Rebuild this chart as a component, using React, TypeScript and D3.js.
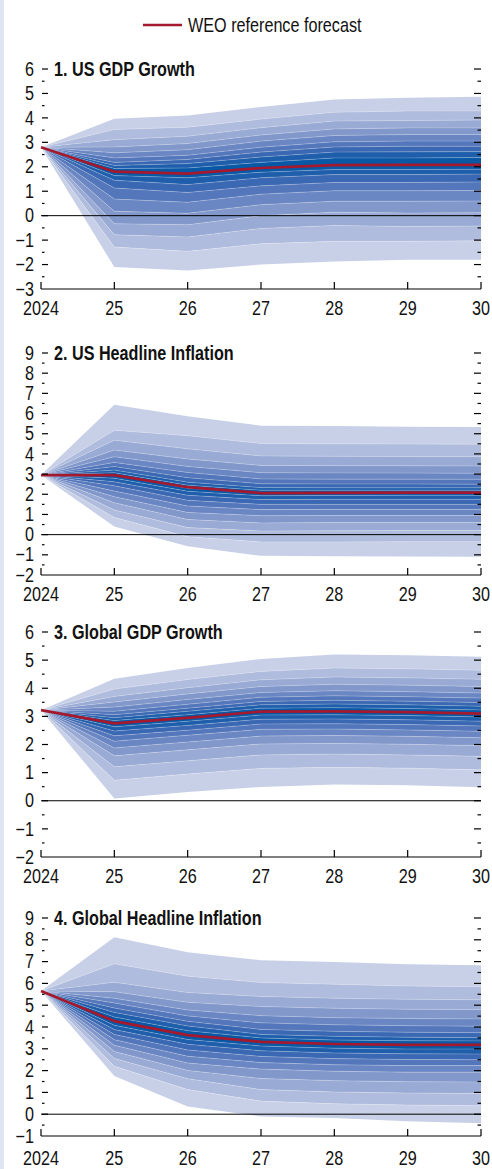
import React from "react";
import * as d3 from "d3";

const years = [2024, 2025, 2026, 2027, 2028, 2029, 2030];
const yearLabels = ["2024", "25", "26", "27", "28", "29", "30"];

// Fan quantiles per year: 95th ... 50th ... 5th percentile (19 values)
const usGdpFan = [
  [2.8, 2.8, 2.8, 2.8, 2.8, 2.8, 2.8, 2.8, 2.8, 2.8, 2.8, 2.8, 2.8, 2.8, 2.8, 2.8, 2.8, 2.8, 2.8],
  [3.96, 3.52, 3.11, 2.81, 2.57, 2.36, 2.18, 2.05, 1.93, 1.8, 1.64, 1.45, 1.13, 0.68, 0.18, -0.33, -0.78, -1.28, -2.1],
  [4.1, 3.62, 3.25, 2.95, 2.7, 2.47, 2.3, 2.13, 1.95, 1.72, 1.55, 1.27, 0.95, 0.55, 0.1, -0.37, -0.87, -1.46, -2.24],
  [4.45, 3.95, 3.6, 3.3, 3.05, 2.8, 2.6, 2.4, 2.18, 1.95, 1.78, 1.55, 1.22, 0.88, 0.45, 0.0, -0.52, -1.15, -2.0],
  [4.75, 4.23, 3.87, 3.55, 3.28, 3.02, 2.81, 2.6, 2.36, 2.07, 1.89, 1.68, 1.36, 1.02, 0.59, 0.14, -0.4, -1.05, -1.87],
  [4.82, 4.28, 3.89, 3.59, 3.32, 3.05, 2.84, 2.61, 2.36, 2.08, 1.89, 1.68, 1.36, 1.02, 0.59, 0.11, -0.44, -1.05, -1.8],
  [4.86, 4.28, 3.91, 3.59, 3.32, 3.05, 2.84, 2.62, 2.38, 2.08, 1.9, 1.7, 1.38, 1.03, 0.6, 0.12, -0.42, -1.03, -1.8],
];
const usGdpRef = [2.8, 1.8, 1.72, 1.95, 2.07, 2.08, 2.08];

const usInflFan = [
  [2.95, 2.95, 2.95, 2.95, 2.95, 2.95, 2.95, 2.95, 2.95, 2.95, 2.95, 2.95, 2.95, 2.95, 2.95, 2.95, 2.95, 2.95, 2.95],
  [6.44, 5.17, 4.68, 4.19, 3.86, 3.58, 3.37, 3.2, 3.07, 2.95, 2.8, 2.62, 2.42, 2.16, 1.88, 1.58, 1.22, 0.85, 0.4],
  [5.86, 4.9, 4.25, 3.75, 3.38, 3.08, 2.82, 2.6, 2.45, 2.3, 2.15, 1.95, 1.7, 1.42, 1.1, 0.75, 0.35, -0.1, -0.57],
  [5.4, 4.52, 3.9, 3.43, 3.07, 2.76, 2.52, 2.33, 2.2, 2.06, 1.93, 1.74, 1.5, 1.24, 0.94, 0.58, 0.18, -0.36, -1.05],
  [5.38, 4.5, 3.88, 3.42, 3.06, 2.75, 2.51, 2.32, 2.2, 2.07, 1.94, 1.75, 1.5, 1.25, 0.95, 0.6, 0.19, -0.36, -1.07],
  [5.35, 4.49, 3.87, 3.41, 3.05, 2.75, 2.51, 2.32, 2.2, 2.08, 1.95, 1.75, 1.5, 1.25, 0.95, 0.6, 0.2, -0.35, -1.08],
  [5.33, 4.48, 3.86, 3.4, 3.04, 2.74, 2.5, 2.32, 2.2, 2.08, 1.95, 1.75, 1.5, 1.25, 0.95, 0.6, 0.2, -0.35, -1.1],
];
const usInflRef = [2.95, 2.95, 2.35, 2.06, 2.07, 2.08, 2.08];

const glGdpFan = [
  [3.22, 3.22, 3.22, 3.22, 3.22, 3.22, 3.22, 3.22, 3.22, 3.22, 3.22, 3.22, 3.22, 3.22, 3.22, 3.22, 3.22, 3.22, 3.22],
  [4.34, 3.97, 3.71, 3.51, 3.33, 3.18, 3.06, 2.95, 2.85, 2.75, 2.63, 2.48, 2.31, 2.12, 1.88, 1.6, 1.21, 0.73, 0.08],
  [4.72, 4.31, 4.02, 3.8, 3.6, 3.43, 3.29, 3.18, 3.06, 2.95, 2.83, 2.68, 2.51, 2.33, 2.09, 1.81, 1.42, 0.95, 0.31],
  [5.04, 4.6, 4.3, 4.06, 3.85, 3.68, 3.53, 3.41, 3.29, 3.17, 3.05, 2.9, 2.73, 2.54, 2.3, 2.02, 1.63, 1.15, 0.49],
  [5.2, 4.72, 4.4, 4.14, 3.91, 3.73, 3.57, 3.44, 3.31, 3.18, 3.06, 2.91, 2.74, 2.55, 2.32, 2.04, 1.66, 1.19, 0.58],
  [5.17, 4.69, 4.37, 4.11, 3.88, 3.7, 3.54, 3.41, 3.28, 3.15, 3.03, 2.88, 2.71, 2.52, 2.29, 2.01, 1.63, 1.16, 0.55],
  [5.12, 4.64, 4.32, 4.06, 3.83, 3.65, 3.49, 3.36, 3.23, 3.1, 2.98, 2.83, 2.66, 2.47, 2.24, 1.96, 1.58, 1.1, 0.48],
];
const glGdpRef = [3.22, 2.75, 2.95, 3.17, 3.18, 3.15, 3.1];

const glInflFan = [
  [5.65, 5.65, 5.65, 5.65, 5.65, 5.65, 5.65, 5.65, 5.65, 5.65, 5.65, 5.65, 5.65, 5.65, 5.65, 5.65, 5.65, 5.65, 5.65],
  [8.12, 6.9, 6.05, 5.62, 5.32, 5.1, 4.87, 4.67, 4.46, 4.27, 4.08, 3.88, 3.66, 3.42, 3.16, 2.88, 2.56, 2.2, 1.75],
  [7.43, 6.33, 5.58, 5.13, 4.78, 4.51, 4.26, 4.05, 3.83, 3.63, 3.43, 3.21, 2.95, 2.66, 2.35, 2.01, 1.63, 1.13, 0.35],
  [7.06, 6.04, 5.4, 4.94, 4.52, 4.19, 3.89, 3.66, 3.5, 3.32, 3.13, 2.91, 2.65, 2.37, 2.07, 1.64, 1.13, 0.6, -0.1],
  [6.98, 5.96, 5.32, 4.86, 4.43, 4.1, 3.8, 3.57, 3.4, 3.22, 3.03, 2.81, 2.55, 2.27, 1.97, 1.54, 1.02, 0.48, -0.18],
  [6.88, 5.88, 5.27, 4.81, 4.39, 4.06, 3.76, 3.53, 3.37, 3.18, 2.99, 2.77, 2.51, 2.23, 1.93, 1.49, 0.97, 0.42, -0.32],
  [6.83, 5.85, 5.25, 4.8, 4.37, 4.04, 3.74, 3.51, 3.36, 3.18, 2.99, 2.76, 2.5, 2.23, 1.93, 1.48, 0.95, 0.39, -0.41],
];
const glInflRef = [5.65, 4.27, 3.63, 3.32, 3.22, 3.18, 3.18];

const panelTitles = [
  "1. US GDP Growth",
  "2. US Headline Inflation",
  "3. Global GDP Growth",
  "4. Global Headline Inflation",
];
const panelDomains: [number, number][] = [
  [-3, 6],
  [-2, 9],
  [-2, 6],
  [-1, 9],
];
const panelFans = [usGdpFan, usInflFan, glGdpFan, glInflFan];
const panelRefs = [usGdpRef, usInflRef, glGdpRef, glInflRef];

const legendLabel = "WEO reference forecast";

// styling / layout
const W = 492;
const H = 1169;
const FONT = "'Liberation Sans', Arial, sans-serif";
const FS = 19.5;
const SX = 0.83;
const RED = "#a5192e";
const bandColors = ["#c8d0e7", "#b0bcdd", "#99aad4", "#8298cb", "#6b87c3", "#5476ba", "#3b68b2", "#1f5eab", "#0858a5"];
const panelBoxes = [
  { top: 69, bottom: 289, labelDy: 25.5 },
  { top: 353, bottom: 575, labelDy: 25.5 },
  { top: 632, bottom: 857, labelDy: 25.5 },
  { top: 918, bottom: 1136, labelDy: 29 },
];
const X0 = 41;
const X1 = 481;

function Txt({
  x,
  y,
  anchor = "start",
  bold = false,
  dy,
  children,
}: {
  x: number;
  y: number;
  anchor?: string;
  bold?: boolean;
  dy?: string;
  children: React.ReactNode;
}) {
  return (
    <text
      transform={`translate(${x},${y}) scale(${SX},1)`}
      dy={dy}
      textAnchor={anchor}
      fontSize={FS}
      fontWeight={bold ? "bold" : "normal"}
      fontFamily={FONT}
      fill="#111"
    >
      {children}
    </text>
  );
}

function Panel({ idx }: { idx: number }) {
  const box = panelBoxes[idx];
  const [dmin, dmax] = panelDomains[idx];
  const fan = panelFans[idx];
  const ref = panelRefs[idx];
  const x = d3.scaleLinear().domain([years[0], years[years.length - 1]]).range([X0, X1]);
  const y = d3.scaleLinear().domain([dmin, dmax]).range([box.bottom, box.top]);
  const nEdges = fan[0].length;
  const nBands = nEdges - 1;
  const half = nBands / 2;

  const bands = d3.range(nBands).map((b) => {
    const area = d3
      .area<number>()
      .x((_, i) => x(years[i]))
      .y0((_, i) => y(fan[i][b + 1]))
      .y1((_, i) => y(fan[i][b]));
    const level = b < half ? b : nBands - 1 - b;
    return { d: area(years) as string, color: bandColors[level] };
  });
  const edgeLines = d3.range(1, nEdges - 1).map((e) => {
    const line = d3
      .line<number>()
      .x((_, i) => x(years[i]))
      .y((_, i) => y(fan[i][e]));
    return line(years) as string;
  });
  const refLine = d3
    .line<number>()
    .x((_, i) => x(years[i]))
    .y((v) => y(v))(ref) as string;

  const tickVals = d3.range(dmin + 0.5, dmax + 0.25, 0.5);
  const labelVals = d3.range(dmin, dmax + 0.5, 1);
  const fmt = (v: number) => (v < 0 ? "\u2212" + Math.abs(v) : String(v));

  return (
    <g>
      {bands.map((b, i) => (
        <path key={"b" + i} d={b.d} fill={b.color} stroke="none" />
      ))}
      {edgeLines.map((d, i) => (
        <path key={"e" + i} d={d} fill="none" stroke="#ffffff" strokeOpacity={0.28} strokeWidth={0.8} />
      ))}
      {dmin < 0 && (
        <line x1={X0} x2={X1} y1={y(0)} y2={y(0)} stroke="#000" strokeWidth={1} />
      )}
      <path d={refLine} fill="none" stroke={RED} strokeWidth={2.7} strokeLinejoin="round" />
      {/* bottom axis */}
      <line x1={X0} x2={X1} y1={box.bottom} y2={box.bottom} stroke="#000" strokeWidth={1.2} />
      {years.map((yr, i) => (
        <g key={"x" + yr}>
          <line x1={x(yr)} x2={x(yr)} y1={box.bottom} y2={box.bottom - 7} stroke="#000" strokeWidth={1.2} />
          <Txt x={x(yr)} y={box.bottom + box.labelDy} anchor="middle">
            {yearLabels[i]}
          </Txt>
        </g>
      ))}
      {tickVals.map((v) => {
        const major = Math.abs(v - Math.round(v)) < 1e-6;
        return (
          <g key={"t" + v}>
            <line x1={X0 + 1} x2={X0 + (major ? 7 : 3.5)} y1={y(v)} y2={y(v)} stroke="#000" strokeWidth={1.2} />
            <line x1={X1 - (major ? 7 : 3.5)} x2={X1} y1={y(v)} y2={y(v)} stroke="#000" strokeWidth={1.2} />
          </g>
        );
      })}
      {labelVals.map((v) => (
        <Txt key={"l" + v} x={34} y={y(v)} dy="0.34em" anchor="end">
          {fmt(v)}
        </Txt>
      ))}
      <Txt x={54} y={y(dmax)} dy="0.34em" bold>
        {panelTitles[idx]}
      </Txt>
    </g>
  );
}

export default function App() {
  return (
    <div style={{ position: "absolute", left: 0, top: 0, width: W, height: H, background: "#fff" }}>
      <svg width={W} height={H} style={{ display: "block" }}>
        <rect x={0} y={0} width={W} height={H} fill="#fff" />
        <rect x={0} y={0} width={4} height={H} fill="#e0e5f3" />
        <line x1={143} x2={182} y1={25} y2={25} stroke={RED} strokeWidth={2.7} />
        <Txt x={188} y={25} dy="0.36em">
          {legendLabel}
        </Txt>
        {panelTitles.map((_, i) => (
          <Panel key={i} idx={i} />
        ))}
      </svg>
    </div>
  );
}
